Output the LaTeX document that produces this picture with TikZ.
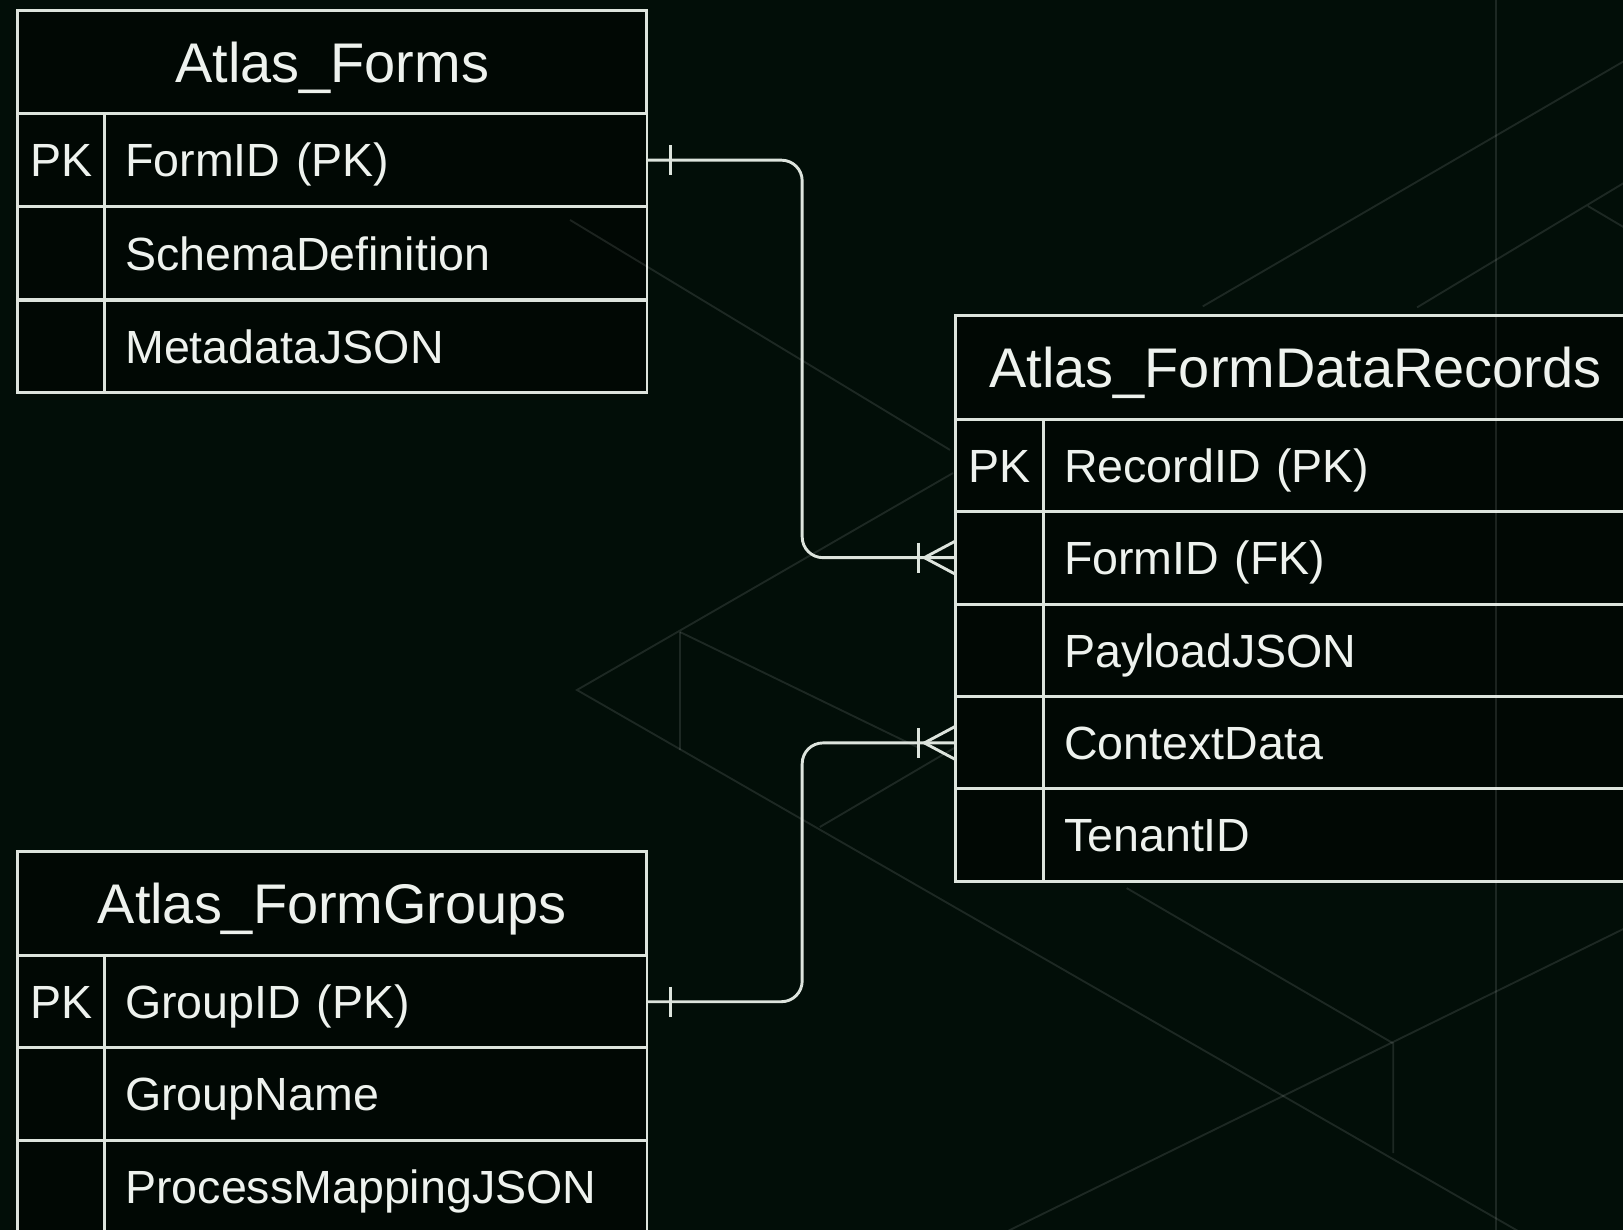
\documentclass[tikz,border=0pt]{standalone}
\usepackage{fontspec}
\setmainfont{Liberation Sans}
\definecolor{bgc}{HTML}{020E08}
\definecolor{tfill}{HTML}{010804}
\definecolor{linec}{HTML}{DDE4DD}
\definecolor{txtc}{HTML}{EEF2EE}
\begin{document}
\begin{tikzpicture}[x=1pt,y=-1pt,
  hdr/.style={draw=linec, line width=3pt, fill=tfill, anchor=north west,
    minimum height=100pt, inner sep=0pt, outer sep=0pt, text=txtc,
    font=\fontsize{54}{60}\selectfont, text height=38.7pt, text depth=0pt},
  keyc/.style={draw=linec, line width=2.7pt, fill=tfill, anchor=north west,
    minimum width=84pt, minimum height=89.5pt, inner sep=0pt, outer sep=0pt,
    text=txtc, font=\fontsize{45}{50}\selectfont, text height=32.2pt, text depth=0pt},
  fld/.style={keyc, inner xsep=20pt, align=left},
  faint/.style={draw=white, draw opacity=0.11, line width=1.8pt},
  conn/.style={draw=linec, line width=2.8pt}]
\useasboundingbox (0,0) rectangle (1568,1188);
\fill[bgc] (0,0) rectangle (1568,1188);
\begin{scope}
\clip (0,0) rectangle (1568,1188);
% Atlas_Forms
\node[hdr, minimum width=608pt] (fT) at (17,10) {Atlas\_Forms};
\node[keyc] (fK1) at (17,110) {PK};
\node[fld, text width=484pt] (fF1) at (101,110) {FormID (PK)};
\node[keyc] (fK2) at (17,200) {};
\node[fld, text width=484pt] (fF2) at (101,200) {SchemaDefinition};
\node[keyc] (fK3) at (17,290) {};
\node[fld, text width=484pt] (fF3) at (101,290) {MetadataJSON};
% Atlas_FormDataRecords
\node[hdr, minimum width=657pt] (rT) at (923,305) {Atlas\_FormDataRecords};
\node[keyc, minimum width=85pt] (rK1) at (923,405) {PK};
\node[fld, text width=532pt] (rF1) at (1008,405) {RecordID (PK)};
\node[keyc, minimum width=85pt] (rK2) at (923,494) {};
\node[fld, text width=532pt] (rF2) at (1008,494) {FormID (FK)};
\node[keyc, minimum width=85pt] (rK3) at (923,584) {};
\node[fld, text width=532pt] (rF3) at (1008,584) {PayloadJSON};
\node[keyc, minimum width=85pt] (rK4) at (923,673) {};
\node[fld, text width=532pt] (rF4) at (1008,673) {ContextData};
\node[keyc, minimum width=85pt] (rK5) at (923,762) {};
\node[fld, text width=532pt] (rF5) at (1008,762) {TenantID};
% Atlas_FormGroups
\node[hdr, minimum width=608pt] (gT) at (17,823) {Atlas\_FormGroups};
\node[keyc] (gK1) at (17,923) {PK};
\node[fld, text width=484pt] (gF1) at (101,923) {GroupID (PK)};
\node[keyc] (gK2) at (17,1012) {};
\node[fld, text width=484pt] (gF2) at (101,1012) {GroupName};
\node[keyc] (gK3) at (17,1102) {};
\node[fld, text width=484pt] (gF3) at (101,1102) {ProcessMappingJSON};
% faint background geometry
\draw[faint] (550.7,212.5) -- (917.8,434.7);
\draw[faint] (920.7,457) -- (557.4,666.6) -- (1520,1220);
\draw[faint] (657,610.6) -- (657,724.6);
\draw[faint] (657,610.6) -- (886,721.7);
\draw[faint] (792,799) -- (923,722);
\draw[faint] (1162,296) -- (1600,41);
\draw[faint] (1369,297) -- (1600,158);
\draw[faint] (1534,199) -- (1600,238);
\draw[faint] (1445,0) -- (1445,1188);
\draw[faint] (1088.5,858) -- (1346,1008) -- (1346,1114);
\draw[faint] (960,1196) -- (1600,882);
% connectors
\coordinate (xm) at (775,0);
\draw[conn, rounded corners=20pt] (fF1.east) -- (fF1.east -| xm) -- (rK2.west -| xm) -- (rK2.west);
\draw[conn, rounded corners=20pt] (gF1.east) -- (gF1.east -| xm) -- (rK4.west -| xm) -- (rK4.west);
% one marks
\draw[conn] ([xshift=23pt]fF1.east) ++(0,-14.5) -- ++(0,29);
\draw[conn] ([xshift=23pt]gF1.east) ++(0,-14.5) -- ++(0,29);
% crow's feet
\draw[conn] ([xshift=-36pt]rK2.west) ++(0,-14.5) -- ++(0,29);
\draw[conn] ([yshift=16pt]rK2.west) -- ([xshift=-30pt]rK2.west) -- ([yshift=-16pt]rK2.west);
\draw[conn] ([xshift=-36pt]rK4.west) ++(0,-14.5) -- ++(0,29);
\draw[conn] ([yshift=16pt]rK4.west) -- ([xshift=-30pt]rK4.west) -- ([yshift=-16pt]rK4.west);
\end{scope}
\end{tikzpicture}
\end{document}
